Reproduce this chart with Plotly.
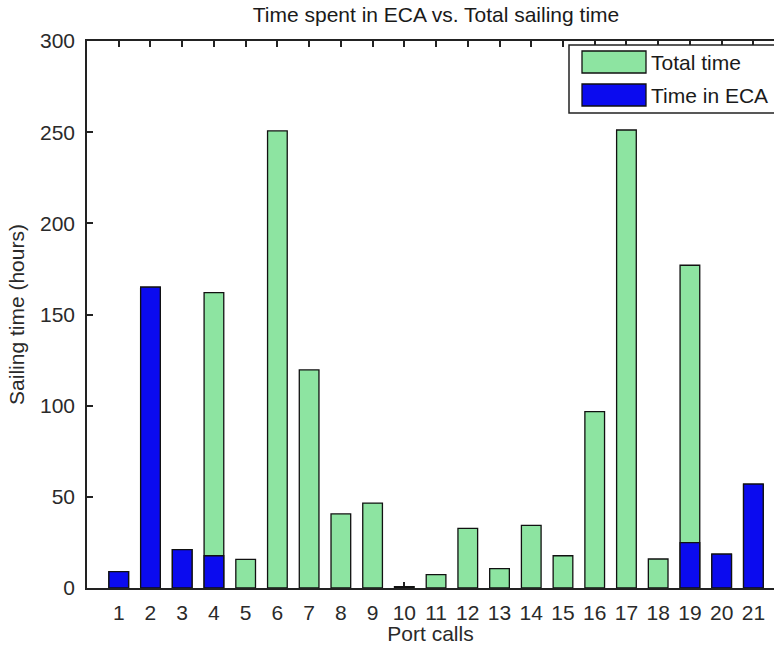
import plotly.graph_objects as go

# Port call numbers and sailing times (hours)
port_calls = list(range(1, 22))
total_time = [9, 165, 21, 162, 15.7, 250.7, 119.6, 40.6, 46.6, 0.8, 7.3,
              32.7, 10.6, 34.4, 17.7, 96.7, 251.2, 15.9, 177, 18.6, 57]
eca_time = [9, 165, 21, 17.7, None, None, None, None, None, None, None,
            None, None, None, None, None, None, None, 24.9, 18.6, 57]

series_names = ["Total time", "Time in ECA"]
series_colors = ["#8de4a1", "#0b0bef"]
y_ticks = [0, 50, 100, 150, 200, 250, 300]

FONT = "Liberation Sans, Arial, sans-serif"
FS = 21
W, H = 774, 645
ML, MR, MT, MB = 87, 0, 41, 57

fig = go.Figure()
for name, vals, col in zip(series_names, [total_time, eca_time], series_colors):
    fig.add_trace(go.Bar(
        x=port_calls, y=vals, name=name, width=0.62,
        marker=dict(color=col, line=dict(color="#111111", width=1.3)),
        showlegend=False,
    ))

fig.update_layout(
    width=W, height=H,
    margin=dict(l=ML, r=MR, t=MT, b=MB),
    paper_bgcolor="white", plot_bgcolor="white",
    barmode="overlay",
    font=dict(family=FONT, size=FS, color="#2a2a2a"),
    title=dict(text="Time spent in ECA vs. Total sailing time",
               x=0.508, xref="paper", xanchor="center",
               y=1 - 15 / H, yref="container", yanchor="middle",
               font=dict(size=FS, color="#1a1a1a")),
    xaxis=dict(
        range=[0, 21.65], tickmode="array", tickvals=port_calls,
        ticktext=[str(p) for p in port_calls],
        showline=True, linecolor="#222222", linewidth=1.5, mirror="ticks",
        ticks="inside", ticklen=6, tickwidth=1.5, tickcolor="#222222",
        showgrid=False, zeroline=False, layer="below traces",
        ticklabelstandoff=5,
        title=dict(text="Port calls", standoff=3, font=dict(size=FS)),
    ),
    yaxis=dict(
        range=[0, 300], tickmode="array", tickvals=y_ticks,
        showline=True, linecolor="#222222", linewidth=1.5,
        ticks="inside", ticklen=6, tickwidth=1.5, tickcolor="#222222",
        showgrid=False, zeroline=False, ticklabelstandoff=6,
        title=dict(text="Sailing time (hours)", standoff=10, font=dict(size=FS)),
    ),
)

# Legend box in the upper right corner of the axes
PW = W - ML - MR
PH = H - MT - MB


def px(x):
    return (x - ML) / PW


def py(y):
    return (H - MB - y) / PH


fig.add_shape(type="rect", xref="paper", yref="paper",
              x0=px(569), x1=px(800), y0=py(113), y1=py(45),
              line=dict(color="#222222", width=1.5), fillcolor="white", layer="above")
rows = [(51, 73), (84, 106)]
for (top, bot), name, col in zip(rows, series_names, series_colors):
    fig.add_shape(type="rect", xref="paper", yref="paper",
                  x0=px(582), x1=px(646), y0=py(bot), y1=py(top),
                  line=dict(color="#111111", width=1.3), fillcolor=col, layer="above")
    fig.add_annotation(text=name, xref="paper", yref="paper",
                       x=px(649), y=py((top + bot) / 2), xanchor="left", yanchor="middle",
                       showarrow=False, font=dict(size=FS, color="#1a1a1a"))

fig.write_html("out.html")
